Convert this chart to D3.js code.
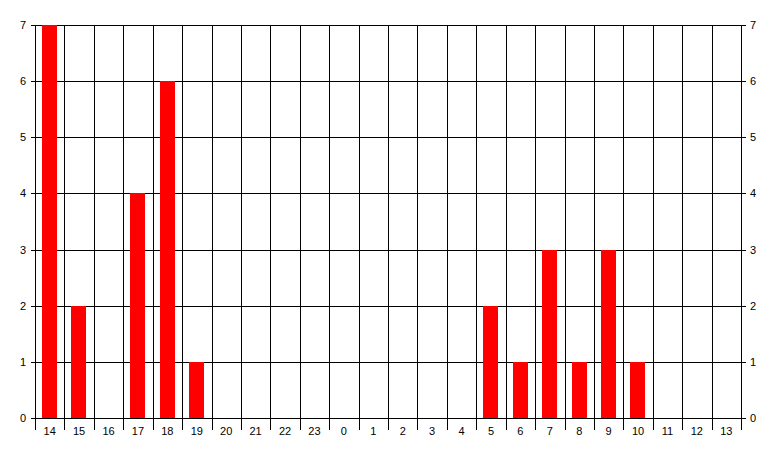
<!DOCTYPE html>
<html>
<head>
<meta charset="utf-8">
<script src="https://cdn.jsdelivr.net/npm/d3@7"></script>
<style>
  body { margin: 0; background: #fff; }
  text { font-family: "Liberation Sans", Arial, sans-serif; font-size: 11px; fill: #000; }
</style>
</head>
<body>
<div id="graph"></div>
<script>
var hours = ["14","15","16","17","18","19","20","21","22","23","0","1","2","3","4","5","6","7","8","9","10","11","12","13"];
var counts = [7,2,0,4,6,1,0,0,0,0,0,0,0,0,0,2,1,3,1,3,1,0,0,0];
var yTicks = [0,1,2,3,4,5,6,7];

var width = 777, height = 457;
var margin = { top: 25, bottom: 39, left: 35, right: 36 };

var svg = d3.select("#graph").append("svg")
  .attr("width", width)
  .attr("height", height);

var x = d3.scaleBand().domain(hours)
  .range([margin.left, width - margin.right]);
var y = d3.scaleLinear().domain([0, 7])
  .range([height - margin.bottom, margin.top]);

var crisp = function (v) { return Math.round(v) + 0.5; };

// horizontal grid + left/right ticks
svg.append("g").selectAll("line")
  .data(yTicks).enter().append("line")
  .attr("x1", margin.left - 4)
  .attr("x2", width - margin.right + 5)
  .attr("y1", function (d) { return crisp(y(d)); })
  .attr("y2", function (d) { return crisp(y(d)); })
  .attr("stroke", "#000");

// vertical grid lines at category boundaries, extending below as ticks
var bounds = hours.map(function (h) { return x(h); });
bounds.push(x.range()[1]);
svg.append("g").selectAll("line")
  .data(bounds).enter().append("line")
  .attr("x1", function (d) { return crisp(d); })
  .attr("x2", function (d) { return crisp(d); })
  .attr("y1", margin.top)
  .attr("y2", function (d, i) {
    return (i === 0 || i === bounds.length - 1) ? y(0) + 1 : y(0) + 12;
  })
  .attr("stroke", "#000");
// ticks below left and right edges too
svg.append("g").selectAll("line")
  .data([bounds[0], bounds[bounds.length - 1]]).enter().append("line")
  .attr("x1", function (d) { return crisp(d); })
  .attr("x2", function (d) { return crisp(d); })
  .attr("y1", y(0))
  .attr("y2", y(0) + 12)
  .attr("stroke", "#000");

// bars
var bw = x.bandwidth() * 0.52;
svg.append("g").selectAll("rect")
  .data(counts).enter().append("rect")
  .attr("x", function (d, i) { return Math.round(x(hours[i]) + (x.bandwidth() - bw) / 2); })
  .attr("width", Math.round(bw))
  .attr("y", function (d) { return Math.round(y(d)); })
  .attr("height", function (d) { return Math.round(y(0)) - Math.round(y(d)); })
  .attr("fill", "#ff0000");

// y labels left
svg.append("g").selectAll("text")
  .data(yTicks).enter().append("text")
  .attr("x", margin.left - 9)
  .attr("y", function (d) { return y(d) + 4; })
  .attr("text-anchor", "end")
  .text(function (d) { return d; });

// y labels right
svg.append("g").selectAll("text")
  .data(yTicks).enter().append("text")
  .attr("x", width - margin.right + 9)
  .attr("y", function (d) { return y(d) + 4; })
  .attr("text-anchor", "start")
  .text(function (d) { return d; });

// x labels
svg.append("g").selectAll("text")
  .data(hours).enter().append("text")
  .attr("x", function (d) { return x(d) + x.bandwidth() / 2; })
  .attr("y", y(0) + 17)
  .attr("text-anchor", "middle")
  .text(function (d) { return d; });
</script>
</body>
</html>
